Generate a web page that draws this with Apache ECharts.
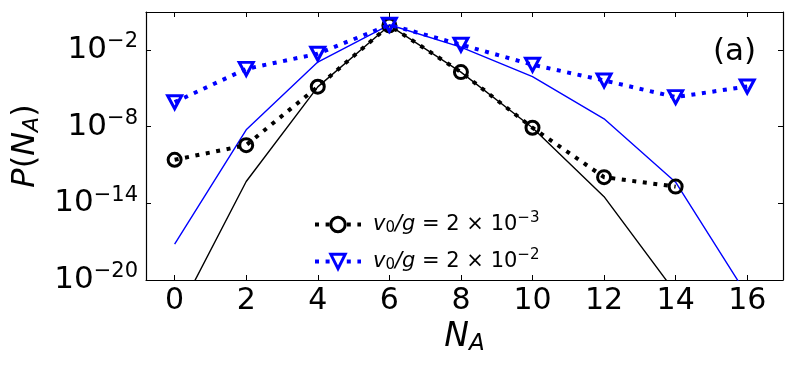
<!DOCTYPE html>
<html>
<head>
<meta charset="utf-8">
<script src="https://cdn.jsdelivr.net/npm/echarts@6/dist/echarts.min.js"></script>
<style>html,body{margin:0;padding:0;background:#fff;}#c{width:788px;height:366px;}</style>
</head>
<body>
<div id="c"></div>
<script>
// N_A values
const nA = [0, 2, 4, 6, 8, 10, 12, 14, 16];
// v0/g = 2e-3 (markers, dotted) N_A = 0..14
const probLow = [2.5e-11, 3.5e-10, 1.3e-5, 0.8, 1.8e-4, 8e-9, 1.1e-12, 2e-13];
// v0/g = 2e-2 (markers, dotted) N_A = 0..16
const probHigh = [8e-7, 3.2e-4, 4.9e-3, 0.9, 2.5e-2, 6.8e-4, 4e-5, 2e-6, 1.35e-5];
// thin solid curves
const curveLow = [8e-24, 5e-13, 1.26e-5, 0.8, 1.8e-4, 8e-9, 3.3e-14, 1e-21, 1e-30];
const curveHigh = [6.3e-18, 5.5e-9, 1.1e-3, 0.9, 1.6e-2, 8.1e-5, 4e-8, 4.4e-13, 6.3e-22];
// ticks
const xTicks = [0, 2, 4, 6, 8, 10, 12, 14, 16];
const yTickExp = [-20, -14, -8, -2];
const yTicks = yTickExp.map(e => Math.pow(10, e));
const legendNames = ['low', 'high'];

const pairs = (vals) => vals.map((v, i) => [nA[i], v]);
const FONT = 'DejaVu Sans';

const yLabelFmt = (v) => {
  const e = Math.round(Math.log10(v));
  return '{a|10}{b|' + (e < 0 ? '\u2212' + (-e) : e) + '}';
};
const yRich = {
  a: { fontSize: 31, fontFamily: FONT, color: '#000' },
  b: { fontSize: 21, fontFamily: FONT, color: '#000', padding: [0, 0, 16, 0] }
};

const chart = echarts.init(document.getElementById('c'), null, { renderer: 'canvas' });
const axisLineStyle = { show: true, onZero: false, lineStyle: { color: '#000', width: 1.2 } };

chart.setOption({
  animation: false,
  grid: { left: 146, right: 5, top: 12, bottom: 86, containLabel: false, outerBoundsMode: 'none' },
  xAxis: [{
    type: 'value', min: -0.8, max: 17, position: 'bottom',
    axisLine: axisLineStyle,
    axisTick: { inside: true, length: 5, lineStyle: { color: '#000', width: 1 }, customValues: xTicks },
    axisLabel: { customValues: xTicks, fontSize: 30, fontFamily: FONT, color: '#000', margin: 6 },
    splitLine: { show: false },
    name: '{i|N}{s|A}', nameLocation: 'middle', nameGap: 38,
    nameTextStyle: { rich: {
      i: { fontSize: 33, fontFamily: FONT, fontStyle: 'italic', color: '#000' },
      s: { fontSize: 23, fontFamily: FONT, fontStyle: 'italic', color: '#000', padding: [14, 0, 0, 0] }
    } }
  }, {
    type: 'value', min: -0.8, max: 17, position: 'top',
    axisLine: axisLineStyle,
    axisTick: { inside: true, length: 5, lineStyle: { color: '#000', width: 1 }, customValues: xTicks },
    axisLabel: { show: false },
    splitLine: { show: false }
  }],
  yAxis: [{
    type: 'log', logBase: 10, min: 1e-20, max: 9, position: 'left',
    axisLine: axisLineStyle,
    axisTick: { inside: true, length: 5, lineStyle: { color: '#000', width: 1 }, customValues: yTicks },
    axisLabel: { customValues: yTicks, formatter: yLabelFmt, rich: yRich, margin: 8 },
    splitLine: { show: false },
    minorTick: { show: false },
    name: '{i|P}{n|(}{i|N}{s|A}{n|)}', nameLocation: 'middle', nameGap: 97, nameRotate: 90,
    nameTextStyle: { rich: {
      i: { fontSize: 32, fontFamily: FONT, fontStyle: 'italic', color: '#000' },
      n: { fontSize: 32, fontFamily: FONT, color: '#000' },
      s: { fontSize: 22, fontFamily: FONT, fontStyle: 'italic', color: '#000', padding: [13, 0, 0, 0] }
    } }
  }, {
    type: 'log', logBase: 10, min: 1e-20, max: 9, position: 'right',
    axisLine: axisLineStyle,
    axisTick: { inside: true, length: 5, lineStyle: { color: '#000', width: 1 }, customValues: yTicks },
    axisLabel: { show: false },
    splitLine: { show: false }
  }],
  legend: {
    orient: 'vertical', left: 308, top: 206, itemGap: 12,
    itemWidth: 46, itemHeight: 18,
    data: legendNames,
    lineStyle: { width: 4, type: [4, 6.6], cap: 'butt' },
    itemStyle: { color: '#ffffff', borderWidth: 3 },
    formatter: (name) => '{g|}{i|v}{s|0}{i|/g}{n| = 2 \u00d7 10}{p|' + (name === 'low' ? '\u22123' : '\u22122') + '}',
    textStyle: { rich: {
      g: { width: 7 },
      i: { fontSize: 21, fontFamily: FONT, fontStyle: 'italic', color: '#000' },
      s: { fontSize: 15, fontFamily: FONT, color: '#000', padding: [8, 0, 0, 0] },
      n: { fontSize: 21, fontFamily: FONT, color: '#000' },
      p: { fontSize: 15, fontFamily: FONT, color: '#000', padding: [0, 0, 12, 0] }
    } }
  },
  graphic: [{
    type: 'text', left: 713, top: 36,
    style: { text: '(a)', fontSize: 31, fontFamily: FONT, fill: '#000' }
  }],
  series: [{
    type: 'line', name: 'curveLow', data: pairs(curveLow), symbol: 'none',
    lineStyle: { color: '#000', width: 1.4 }, itemStyle: { color: '#000' }, z: 2
  }, {
    type: 'line', name: 'curveHigh', data: pairs(curveHigh), symbol: 'none',
    lineStyle: { color: '#0000ff', width: 1.4 }, itemStyle: { color: '#0000ff' }, z: 2
  }, {
    type: 'line', name: 'low', data: pairs(probLow),
    symbol: 'circle', symbolSize: 13,
    lineStyle: { color: '#000', width: 4, type: [4, 6.6], cap: 'butt' },
    itemStyle: { color: 'rgba(0,0,0,0)', borderColor: '#000', borderWidth: 3 }, z: 3
  }, {
    type: 'line', name: 'high', data: pairs(probHigh),
    symbol: 'triangle', symbolRotate: 180, symbolSize: [14, 13],
    lineStyle: { color: '#0000ff', width: 4, type: [4, 6.6], cap: 'butt' },
    itemStyle: { color: 'rgba(0,0,0,0)', borderColor: '#0000ff', borderWidth: 3 }, z: 4
  }]
});
</script>
</body>
</html>
